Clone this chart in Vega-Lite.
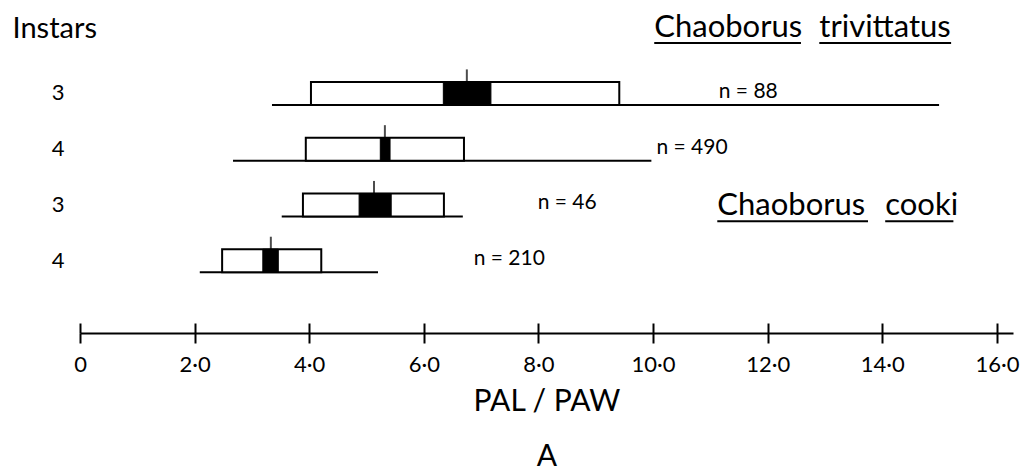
{
  "$schema": "https://vega.github.io/schema/vega-lite/v6.json",
  "autosize": "none",
  "width": 933,
  "height": 333,
  "padding": {"left": 80, "top": 0, "right": 12, "bottom": 142},
  "background": "white",
  "config": {"view": {"stroke": null}, "font": "Lato", "text": {"font": "Lato", "color": "black"}},
  "datasets": {
    "rows": [
      {"row": 1, "instar": "3", "lo": 3.35, "hi": 14.99, "boxLo": 4.03, "boxHi": 9.41, "blackLo": 6.34, "blackHi": 7.17, "mean": 6.75, "n": "n = 88", "nx": 11.66},
      {"row": 2, "instar": "4", "lo": 2.67, "hi": 9.97, "boxLo": 3.94, "boxHi": 6.70, "blackLo": 5.24, "blackHi": 5.41, "mean": 5.32, "n": "n = 490", "nx": 10.68},
      {"row": 3, "instar": "3", "lo": 3.52, "hi": 6.68, "boxLo": 3.89, "boxHi": 6.35, "blackLo": 4.87, "blackHi": 5.43, "mean": 5.13, "n": "n = 46", "nx": 8.50},
      {"row": 4, "instar": "4", "lo": 2.09, "hi": 5.20, "boxLo": 2.48, "boxHi": 4.21, "blackLo": 3.19, "blackHi": 3.46, "mean": 3.33, "n": "n = 210", "nx": 7.49}
    ],
    "species": [
      {"word": "Chaoborus", "x1": 10.02, "x2": 12.58, "y": -0.217},
      {"word": "trivittatus", "x1": 12.90, "x2": 15.20, "y": -0.217},
      {"word": "Chaoborus", "x1": 11.12, "x2": 13.75, "y": 2.98},
      {"word": "cooki", "x1": 14.05, "x2": 15.24, "y": 2.98}
    ]
  },
  "resolve": {"axis": {"x": "independent", "y": "independent"}},
  "layer": [
    {
      "data": {"name": "rows"},
      "mark": {"type": "rule", "stroke": "black", "strokeWidth": 2},
      "encoding": {
        "x": {"field": "lo", "type": "quantitative",
          "scale": {"domain": [0, 16.28], "nice": false, "zero": false},
          "axis": {"orient": "bottom", "values": [0, 2, 4, 6, 8, 10, 12, 14, 16],
            "labelExpr": "datum.value == 0 ? '0' : replace(format(datum.value, '.1f'), '.', '·')",
            "domainColor": "black", "domainWidth": 2, "tickColor": "black", "tickWidth": 2, "tickSize": 10,
            "labelFont": "Lato", "labelFontSize": 22, "labelColor": "black", "labelPadding": 11, "labelFlush": false,
            "grid": false,
            "title": ["PAL / PAW", "A"], "titleFont": "Lato", "titleFontSize": 30, "titleFontWeight": "normal",
            "titleColor": "black", "titleLineHeight": 55, "titlePadding": 11}},
        "x2": {"field": "hi"},
        "y": {"field": "row", "type": "quantitative",
          "scale": {"domain": [-0.791, 5.0], "nice": false, "zero": false, "reverse": true},
          "axis": {"orient": "left", "values": [1, 2, 3, 4], "domain": false, "ticks": false, "grid": false,
            "labelExpr": "datum.value == 1 || datum.value == 3 ? '3' : '4'",
            "labelFont": "Lato", "labelFontSize": 22, "labelColor": "black", "labelPadding": 16, "labelOffset": -12,
            "labelBaseline": "middle",
            "title": "Instars", "titleAngle": 0, "titleAlign": "left", "titleBaseline": "alphabetic",
            "titleX": -68, "titleY": 37, "titleFont": "Lato", "titleFontSize": 29, "titleFontWeight": "normal", "titleColor": "black"}}
      }
    },
    {
      "data": {"name": "rows"},
      "mark": {"type": "bar", "size": 23, "yOffset": -11.5, "fill": "white", "stroke": "black", "strokeWidth": 2},
      "encoding": {
        "x": {"field": "boxLo", "type": "quantitative", "axis": null},
        "x2": {"field": "boxHi"},
        "y": {"field": "row", "type": "quantitative", "axis": null}
      }
    },
    {
      "data": {"name": "rows"},
      "mark": {"type": "bar", "size": 23, "yOffset": -11.5, "fill": "black", "stroke": "black", "strokeWidth": 1},
      "encoding": {
        "x": {"field": "blackLo", "type": "quantitative", "axis": null},
        "x2": {"field": "blackHi"},
        "y": {"field": "row", "type": "quantitative", "axis": null}
      }
    },
    {
      "data": {"name": "rows"},
      "mark": {"type": "tick", "orient": "vertical", "size": 13, "thickness": 2, "yOffset": -29, "color": "black"},
      "encoding": {
        "x": {"field": "mean", "type": "quantitative",
          "axis": {"orient": "bottom", "values": [0, 2, 4, 6, 8, 10, 12, 14, 16], "labels": false, "domain": false,
            "tickColor": "black", "tickWidth": 2, "tickSize": -10, "grid": false, "title": null}},
        "y": {"field": "row", "type": "quantitative", "axis": null}
      }
    },
    {
      "data": {"name": "rows"},
      "mark": {"type": "text", "align": "center", "baseline": "alphabetic", "yOffset": -7, "fontSize": 21, "font": "Lato", "color": "black"},
      "encoding": {
        "x": {"field": "nx", "type": "quantitative", "axis": null},
        "y": {"field": "row", "type": "quantitative", "axis": null},
        "text": {"field": "n"}
      }
    },
    {
      "data": {"name": "species"},
      "mark": {"type": "text", "align": "left", "baseline": "alphabetic", "fontSize": 31, "font": "Lato", "color": "black"},
      "encoding": {
        "x": {"field": "x1", "type": "quantitative", "axis": null},
        "y": {"field": "y", "type": "quantitative", "axis": null},
        "text": {"field": "word"}
      }
    },
    {
      "data": {"name": "species"},
      "mark": {"type": "rule", "yOffset": 6, "stroke": "black", "strokeWidth": 2},
      "encoding": {
        "x": {"field": "x1", "type": "quantitative", "axis": null},
        "x2": {"field": "x2"},
        "y": {"field": "y", "type": "quantitative", "axis": null}
      }
    }
  ]
}
